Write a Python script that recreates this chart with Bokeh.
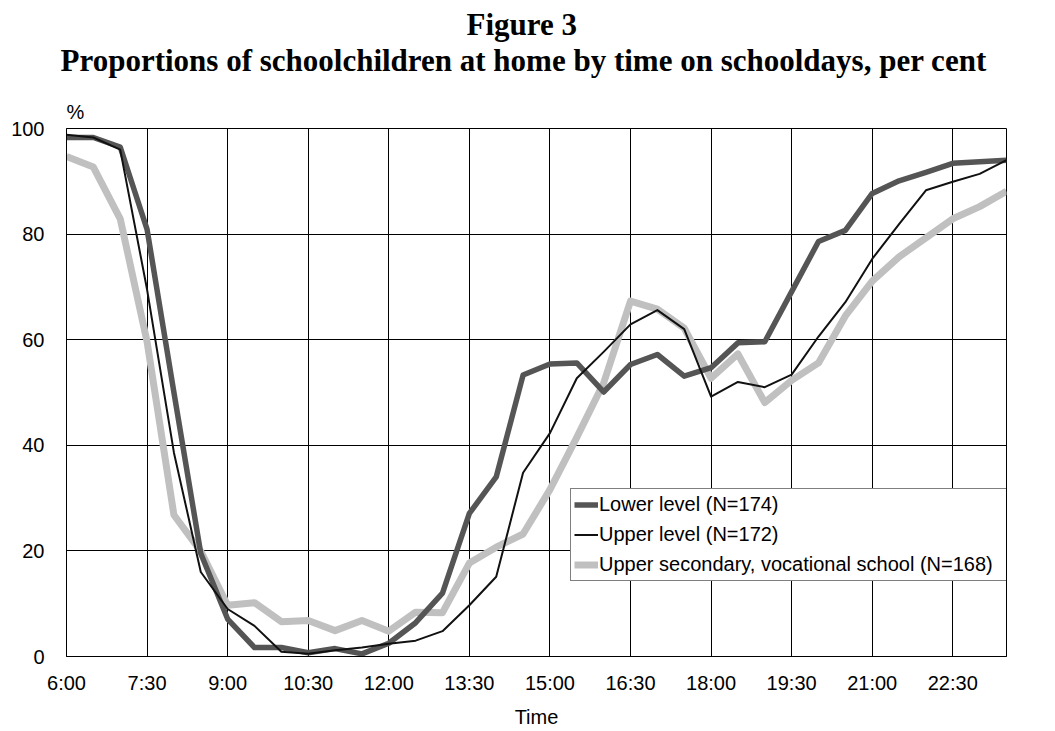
from bokeh.plotting import figure
from bokeh.models import Legend, LegendItem, FixedTicker, Range1d, Title
from bokeh.embed import file_html
from bokeh.resources import INLINE

# ---- data ----
times = ["6:00", "6:30", "7:00", "7:30", "8:00", "8:30", "9:00", "9:30", "10:00", "10:30",
         "11:00", "11:30", "12:00", "12:30", "13:00", "13:30", "14:00", "14:30", "15:00", "15:30",
         "16:00", "16:30", "17:00", "17:30", "18:00", "18:30", "19:00", "19:30", "20:00", "20:30",
         "21:00", "21:30", "22:00", "22:30", "23:00", "23:30"]
lower_level = [98.3, 98.3, 96.5, 80.9, 50.0, 19.5, 7.1, 1.7, 1.7, 0.7,
               1.5, 0.5, 2.5, 6.4, 12.0, 27.1, 34.0, 53.3, 55.4, 55.6,
               50.1, 55.3, 57.2, 53.1, 54.7, 59.4, 59.6, 69.1, 78.6, 80.7,
               87.7, 90.1, 91.7, 93.4, 93.7, 94.0]
upper_level = [98.8, 98.3, 96.0, 69.5, 38.6, 16.0, 9.0, 5.8, 0.9, 0.5,
               1.2, 1.7, 2.4, 3.0, 4.8, 9.7, 15.1, 34.8, 42.3, 52.7,
               57.7, 62.9, 65.6, 62.0, 49.2, 52.0, 51.0, 53.4, 60.6, 67.1,
               75.3, 81.9, 88.3, 89.9, 91.4, 94.0]
upper_secondary = [94.7, 92.7, 82.9, 59.6, 26.8, 19.9, 9.7, 10.2, 6.6, 6.8,
                   4.9, 6.8, 4.8, 8.4, 8.3, 17.7, 20.7, 23.2, 31.6, 41.5,
                   51.8, 67.3, 65.8, 62.2, 52.7, 57.3, 48.1, 52.3, 55.6, 64.5,
                   71.1, 75.7, 79.3, 82.9, 85.2, 88.1]
series_names = ["Lower level (N=174)", "Upper level (N=172)",
                "Upper secondary, vocational school (N=168)"]
x_tick_labels = ["6:00", "7:30", "9:00", "10:30", "12:00", "13:30",
                 "15:00", "16:30", "18:00", "19:30", "21:00", "22:30"]
y_ticks = [0, 20, 40, 60, 80, 100]
title_line1 = "Figure 3"
title_line2 = "Proportions of schoolchildren at home by time on schooldays, per cent"
y_axis_title = "%"
x_axis_title = "Time"

x = list(range(len(times)))
x_ticks = [times.index(t) for t in x_tick_labels]

SANS = "Liberation Sans"
SERIF = "Liberation Serif"

p = figure(width=1047, height=730, output_backend="svg", toolbar_location=None,
           title=None,
           x_range=Range1d(0, len(times) - 1), y_range=Range1d(0, 100),
           min_border_left=66, min_border_right=41, min_border_top=128,
           min_border_bottom=0)
p.background_fill_color = "white"
p.border_fill_color = "white"
p.outline_line_color = "black"
p.outline_line_width = 1

# axes
p.xaxis.ticker = FixedTicker(ticks=x_ticks)
p.xaxis.major_label_overrides = {t: lab for t, lab in zip(x_ticks, x_tick_labels)}
p.yaxis.ticker = FixedTicker(ticks=y_ticks)
for ax in (p.xaxis[0], p.yaxis[0]):
    ax.major_tick_out = 0
    ax.major_tick_in = 0
    ax.minor_tick_out = 0
    ax.minor_tick_in = 0
    ax.axis_line_color = "black"
    ax.major_label_text_font = SANS
    ax.major_label_text_font_size = "20px"
    ax.major_label_text_color = "black"
p.xaxis.major_label_standoff = 15
p.yaxis.major_label_standoff = 22
p.xaxis.axis_label = x_axis_title
p.xaxis.axis_label_text_font = SANS
p.xaxis.axis_label_text_font_size = "20px"
p.xaxis.axis_label_text_font_style = "normal"
p.xaxis.axis_label_text_color = "black"
p.xaxis.axis_label_standoff = 9

# grid
p.xgrid.ticker = FixedTicker(ticks=x_ticks)
p.ygrid.ticker = FixedTicker(ticks=y_ticks)
for g in (p.xgrid[0], p.ygrid[0]):
    g.grid_line_color = "black"
    g.grid_line_alpha = 1.0
    g.grid_line_width = 1

# lines
r_sec = p.line(x, upper_secondary, line_color="#c0c0c0", line_width=7, line_join="round")
r_low = p.line(x, lower_level, line_color="#555555", line_width=5.5, line_join="round")
r_up = p.line(x, upper_level, line_color="#111111", line_width=2, line_join="round")

legend = Legend(items=[LegendItem(label=series_names[0], renderers=[r_low]),
                       LegendItem(label=series_names[1], renderers=[r_up]),
                       LegendItem(label=series_names[2], renderers=[r_sec])],
                location=(504, 75))
legend.label_text_font = SANS
legend.label_text_font_size = "20px"
legend.label_text_color = "black"
legend.label_height = 25
legend.glyph_height = 25
legend.glyph_width = 24
legend.label_standoff = 1
legend.label_width = 470
legend.padding = 3
legend.spacing = 5
legend.margin = 0
legend.border_line_color = "black"
legend.border_line_width = 1
legend.background_fill_color = "white"
legend.background_fill_alpha = 1.0
p.add_layout(legend, "center")

# titles stacked above the frame (first added = nearest the frame)
p.add_layout(Title(text=y_axis_title, align="left", text_font=SANS, text_font_size="20px",
                   text_font_style="normal", text_color="black", standoff=12), "above")
p.add_layout(Title(text=title_line2, align="left", offset=-6, text_font=SERIF,
                   text_font_size="31px", text_font_style="bold", text_color="black",
                   standoff=30), "above")
p.add_layout(Title(text=title_line1, align="left", offset=400, text_font=SERIF,
                   text_font_size="31px", text_font_style="bold", text_color="black",
                   standoff=-33), "above")

open("out.html", "w").write(file_html(p, INLINE))
